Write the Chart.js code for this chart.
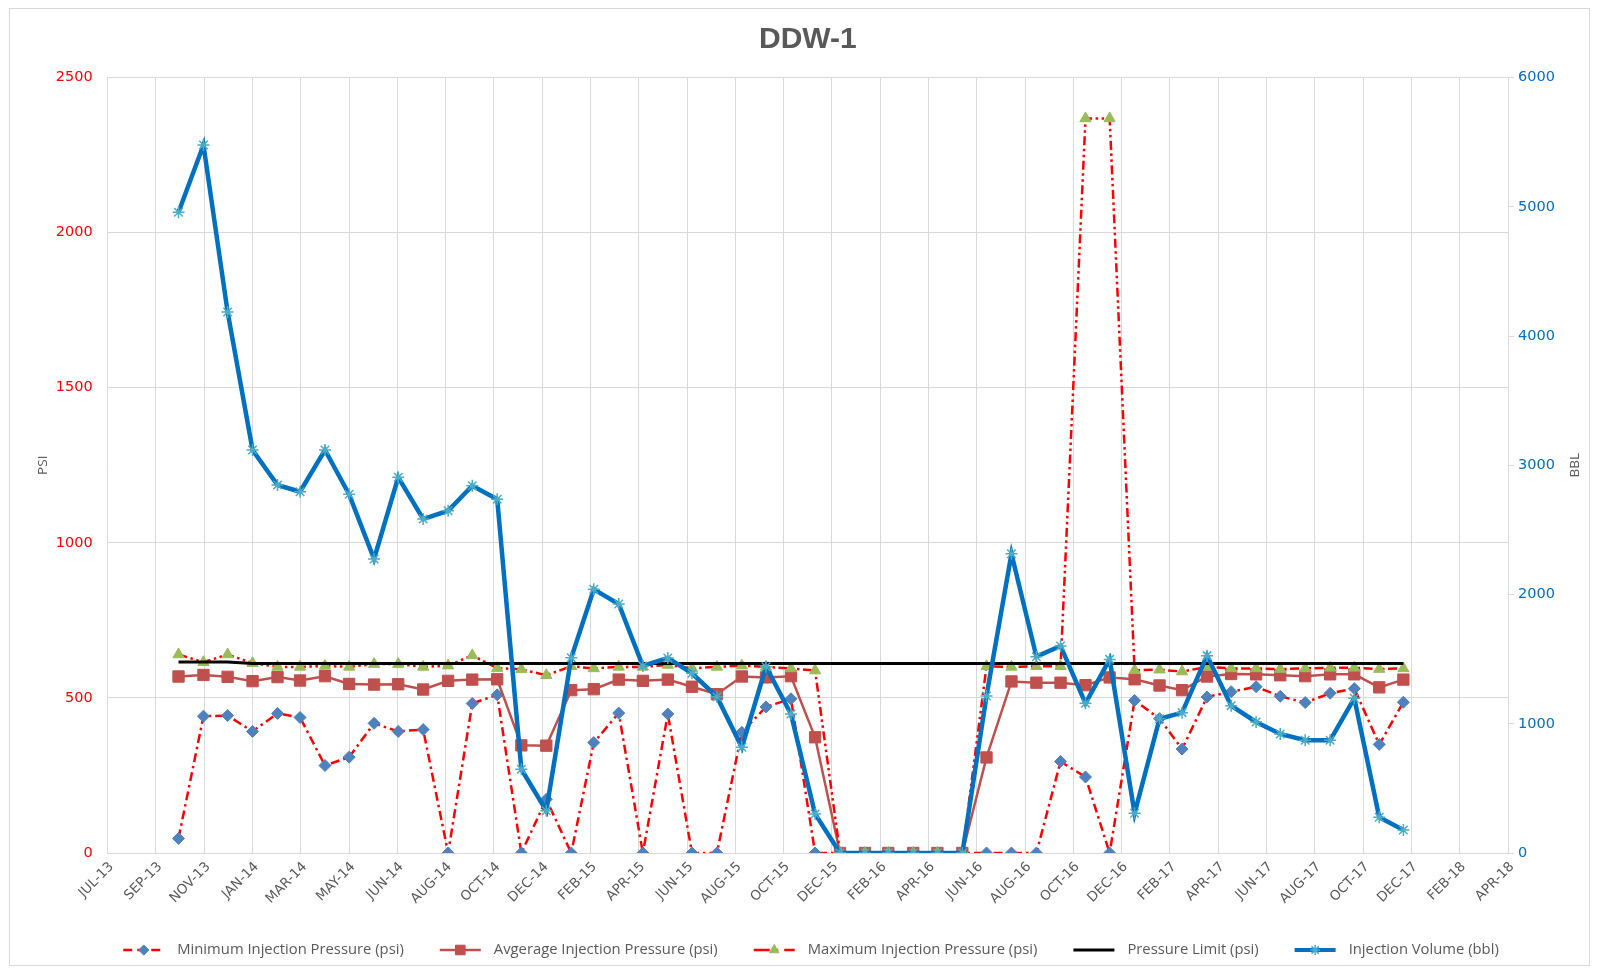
<!DOCTYPE html>
<html><head><meta charset="utf-8">
<script src="https://cdn.jsdelivr.net/npm/chart.js@4.4.1/dist/chart.umd.min.js"></script>
<style>html,body{margin:0;padding:0;background:#fff}#wrap{width:1598px;height:974px;position:relative}</style>
</head><body><div id="wrap"><canvas id="c"></canvas></div>
<script>
// ---- data ----
const months = ['2013-10','2013-11','2013-12','2014-01','2014-02','2014-03','2014-04','2014-05','2014-06','2014-07','2014-08','2014-09',
  '2014-10','2014-11','2014-12','2015-01','2015-02','2015-03','2015-04','2015-05','2015-06','2015-07','2015-08','2015-09',
  '2015-10','2015-11','2015-12','2016-01','2016-02','2016-03','2016-04','2016-05','2016-06','2016-07','2016-08','2016-09',
  '2016-10','2016-11','2016-12','2017-01','2017-02','2017-03','2017-04','2017-05','2017-06','2017-07','2017-08','2017-09',
  '2017-10','2017-11','2017-12'];
const minPressure = [47,441,443,392,450,437,282,309,418,392,398,0,482,510,0,173,0,356,451,0,448,0,0,389,471,497,0,0,0,0,0,0,0,0,0,0,295,245,0,492,433,335,503,520,536,505,485,515,530,350,486];
const avgPressure = [569,574,568,554,567,556,570,545,543,544,527,555,559,560,347,346,525,528,559,555,559,536,512,569,566,570,373,0,0,0,0,0,0,308,553,549,549,541,566,560,540,525,569,577,576,573,570,576,576,534,559];
const maxPressure = [640,615,640,612,600,600,603,600,609,609,600,604,637,596,592,573,602,595,600,600,606,595,600,604,600,595,588,0,0,0,0,0,0,602,600,602,602,2368,2368,589,591,585,600,595,595,593,595,597,597,593,595];
const pressureLimit = [616,616,616,611,611,611,611,611,611,611,611,611,611,611,611,611,611,611,611,611,611,611,611,611,611,611,611,611,611,611,611,611,611,611,611,611,611,611,611,611,611,611,611,611,611,611,611,611,611,611,611];
const injectionVolume = [4957,5478,4186,3118,2847,2795,3118,2775,2275,2907,2584,2648,2842,2737,648,327,1511,2040,1927,1447,1509,1390,1209,818,1441,1075,302,0,0,0,0,0,0,1215,2315,1519,1602,1158,1498,307,1039,1086,1527,1140,1014,921,872,872,1197,276,178];
const xTickLabels = ['JUL-13','SEP-13','NOV-13','JAN-14','MAR-14','MAY-14','JUN-14','AUG-14','OCT-14','DEC-14','FEB-15','APR-15','JUN-15','AUG-15','OCT-15','DEC-15','FEB-16','APR-16','JUN-16','AUG-16','OCT-16','DEC-16','FEB-17','APR-17','JUN-17','AUG-17','OCT-17','DEC-17','FEB-18','APR-18'];
const psiTicks = [0,500,1000,1500,2000,2500];
const bblTicks = [0,1000,2000,3000,4000,5000,6000];
const seriesNames = ['Minimum Injection Pressure (psi)','Avgerage Injection Pressure (psi)','Maximum Injection Pressure (psi)','Pressure Limit (psi)','Injection Volume (bbl)'];

// date axis: origin and major unit (days)
const AXIS_START = Date.UTC(2013,6,5);
const DAY = 86400000;
const STEP_DAYS = 60;
function dayOf(m){ const [y,mo]=m.split('-').map(Number); return (Date.UTC(y,mo-1,1)-AXIS_START)/DAY; }
const xs = months.map(dayOf);
const pts = arr => arr.map((v,i)=>({x:xs[i], y:v}));

const GRID = '#D9D9D9';
const TXT = '#595959';

const datasets = [
  {label:seriesNames[0], data:pts(minPressure), yAxisID:'y', borderColor:'#FF0000', borderWidth:2.5, borderDash:[9,4,2.5,4], legendDash:[9,5],
   pointStyle:'rectRot', pointRadius:6, pointBackgroundColor:'#4F81BD', pointBorderColor:'#4F81BD', pointBorderWidth:1, order:5, mk:'#4F81BD'},
  {label:seriesNames[1], data:pts(avgPressure), yAxisID:'y', borderColor:'#C0504D', borderWidth:2.5, borderDash:[],
   pointStyle:'rect', pointRadius:8, pointBackgroundColor:'#C0504D', pointBorderColor:'#C0504D', pointBorderWidth:1, order:4, mk:'#C0504D'},
  {label:seriesNames[2], data:pts(maxPressure), yAxisID:'y', borderColor:'#FF0000', borderWidth:2.5, borderDash:[9,3.5,2.5,3.5,2.5,3.5], legendDash:[16,6,2.5,6],
   pointStyle:'triangle', pointRadius:6.5, pointBackgroundColor:'#9BBB59', pointBorderColor:'#9BBB59', pointBorderWidth:1, order:3, mk:'#9BBB59'},
  {label:seriesNames[3], data:pts(pressureLimit), yAxisID:'y', borderColor:'#000000', borderWidth:3, borderDash:[],
   pointRadius:0, order:2, mk:null},
  {label:seriesNames[4], data:pts(injectionVolume), yAxisID:'y1', borderColor:'#0070C0', borderWidth:4.5, borderDash:[],
   pointStyle:'star', pointRadius:6, pointBackgroundColor:'#4BACC6', pointBorderColor:'#4BACC6', pointBorderWidth:1.5, order:1, mk:'#4BACC6'}
];
datasets.forEach(d=>{ d.tension=0; d.fill=false; d.pointHoverRadius=d.pointRadius; });

function drawMarker(ctx, style, x, y, r, color, bw){
  ctx.save(); ctx.setLineDash([]); ctx.fillStyle=color; ctx.strokeStyle=color; ctx.lineWidth=bw; ctx.beginPath();
  if(style==='rectRot'){ ctx.moveTo(x,y-r); ctx.lineTo(x+r,y); ctx.lineTo(x,y+r); ctx.lineTo(x-r,y); ctx.closePath(); ctx.fill(); ctx.stroke(); }
  else if(style==='rect'){ const s=r*Math.SQRT1_2; ctx.rect(x-s,y-s,2*s,2*s); ctx.fill(); ctx.stroke(); }
  else if(style==='triangle'){ for(let k=0;k<3;k++){ const a=k*2*Math.PI/3; const px=x+Math.sin(a)*r, py=y-Math.cos(a)*r; k?ctx.lineTo(px,py):ctx.moveTo(px,py);} ctx.closePath(); ctx.fill(); ctx.stroke(); }
  else if(style==='star'){ for(let k=0;k<4;k++){ const a=k*Math.PI/4; ctx.moveTo(x-Math.cos(a)*r,y-Math.sin(a)*r); ctx.lineTo(x+Math.cos(a)*r,y+Math.sin(a)*r);} ctx.stroke(); }
  ctx.restore();
}

const decor = {
  id:'decor',
  afterDraw(chart){
    const ctx = chart.ctx; const ca = chart.chartArea;
    ctx.save();
    // outer border
    ctx.strokeStyle = GRID; ctx.lineWidth = 1; ctx.strokeRect(9.5, 8.5, 1580, 957);
    // title
    ctx.fillStyle = TXT; ctx.font = 'bold 30px "Liberation Sans", Arial, sans-serif';
    ctx.textAlign='center'; ctx.textBaseline='middle';
    ctx.fillText('DDW-1', (ca.left+ca.right)/2, 40);
    // axis titles
    ctx.font = '13.5px "Open Sans", sans-serif';
    const cy = (ca.top+ca.bottom)/2;
    ctx.save(); ctx.translate(43, cy); ctx.rotate(-Math.PI/2); ctx.fillText('PSI',0,0); ctx.restore();
    ctx.save(); ctx.translate(1575, cy); ctx.rotate(-Math.PI/2); ctx.fillText('BBL',0,0); ctx.restore();
    // legend
    ctx.font = '14.8px "Open Sans", sans-serif';
    const sampleW = 41, gapT = 13, gapI = 36, ly = 950;
    const ds = chart.data.datasets;
    const widths = ds.map(d=> sampleW + gapT + ctx.measureText(d.label).width);
    const total = widths.reduce((a,b)=>a+b,0) + gapI*(ds.length-1);
    let x = 811 - total/2;
    ds.forEach((d,i)=>{
      ctx.save();
      ctx.strokeStyle = d.borderColor; ctx.lineWidth = Math.min(d.borderWidth,4);
      ctx.setLineDash(d.legendDash || d.borderDash || []);
      ctx.beginPath(); ctx.moveTo(x, ly); ctx.lineTo(x+sampleW, ly); ctx.stroke();
      ctx.restore();
      if(d.mk) drawMarker(ctx, d.pointStyle, x+sampleW/2, ly, d.pointRadius*0.85, d.mk, d.pointBorderWidth);
      ctx.fillStyle = TXT; ctx.textAlign='left'; ctx.textBaseline='middle';
      ctx.fillText(d.label, x+sampleW+gapT, ly);
      x += widths[i] + gapI;
    });
    ctx.restore();
  }
};

new Chart(document.getElementById('c'), {
  type:'line',
  data:{ datasets },
  plugins:[decor],
  options:{
    responsive:true, maintainAspectRatio:false, animation:false, devicePixelRatio:1,
    layout:{ padding:{ top:77.5, left:0, right:0, bottom:50 } },
    plugins:{ legend:{display:false}, title:{display:false}, tooltip:{enabled:false} },
    scales:{
      x:{ type:'linear', min:0, max:STEP_DAYS*(xTickLabels.length-1),
          afterBuildTicks(s){ s.ticks = xTickLabels.map((_,i)=>({value:i*STEP_DAYS})); },
          afterFit(s){ s.height = 71; },
          ticks:{ autoSkip:false, minRotation:45, maxRotation:45, padding:6, labelOffset:4, color:TXT,
                  font:{family:'"DejaVu Sans", sans-serif', size:13.5},
                  callback:(v,i)=> xTickLabels[i] },
          grid:{ color:GRID, lineWidth:1, drawTicks:false }, border:{ color:GRID, width:1 } },
      y:{ position:'left', min:0, max:2500,
          afterBuildTicks(s){ s.ticks = psiTicks.map(v=>({value:v})); },
          afterFit(s){ s.width = 107.7; },
          ticks:{ color:'#FF0000', padding:15, font:{family:'"DejaVu Sans", sans-serif', size:14.5}, callback:v=>String(v) },
          grid:{ color:GRID, lineWidth:1, drawTicks:false }, border:{ color:GRID, width:1 } },
      y1:{ position:'right', min:0, max:6000,
          afterBuildTicks(s){ s.ticks = bblTicks.map(v=>({value:v})); },
          afterFit(s){ s.width = 90; },
          ticks:{ color:'#0070C0', padding:4, font:{family:'"DejaVu Sans", sans-serif', size:14.5}, callback:v=>String(v) },
          grid:{ drawOnChartArea:false, color:GRID, tickLength:6, drawTicks:true }, border:{ color:GRID, width:1 } }
    }
  }
});
</script></body></html>
